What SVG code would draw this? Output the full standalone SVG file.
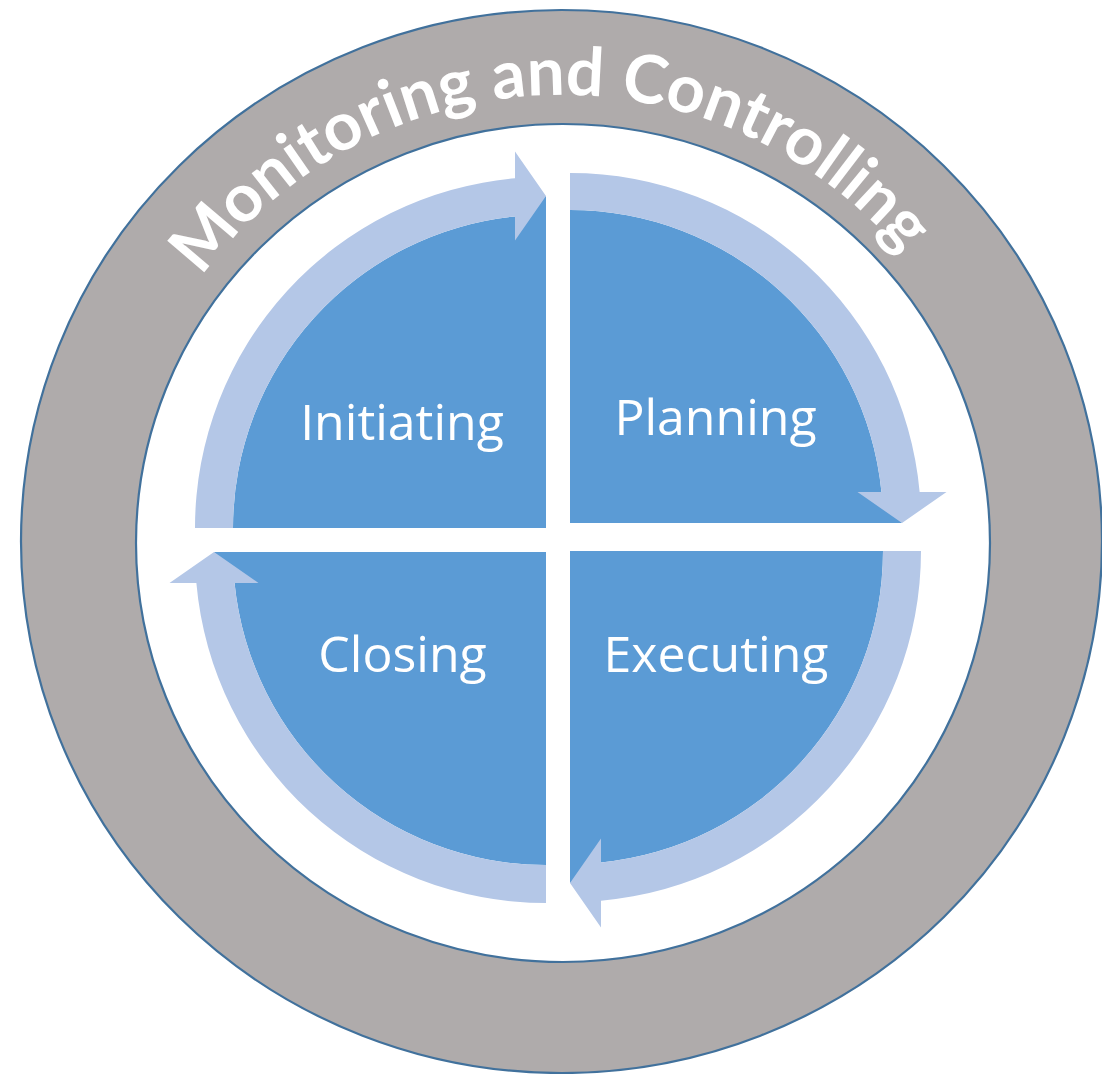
<svg xmlns="http://www.w3.org/2000/svg" width="1102" height="1074" viewBox="0 0 1102 1074">
  <style>
    .ring { fill: #AFABAB; stroke: #41719C; stroke-width: 2.2; }
    .hole { fill: #FFFFFF; stroke: #41719C; stroke-width: 2.2; }
    .quad { fill: #5B9BD5; }
    .arrow { fill: #B4C7E7; }
    .label { font-family: "Open Sans", "Liberation Sans", sans-serif; font-size: 50px; fill: #FFFFFF; text-anchor: middle; }
    .ringtext { font-family: Lato, "Open Sans", "Liberation Sans", sans-serif; font-weight: bold; font-size: 67px; fill: #FFFFFF; }
  </style>
  <defs>
    <path id="ringPath" d="M 115,541 A 446 446 0 0 1 1007,541"/>
  </defs>
  <rect width="1102" height="1074" fill="#FFFFFF"/>
  <g id="monitoring-controlling">
    <ellipse class="ring" cx="561.5" cy="541.5" rx="540.5" ry="531.5"/>
    <ellipse class="hole" cx="563" cy="543" rx="427" ry="419"/>
    <text class="ringtext"><textPath href="#ringPath" startOffset="686" text-anchor="middle">Monitoring and Controlling</textPath></text>
  </g>
  <g id="initiating">
    <path class="quad" d="M 546,528 L 233,528 A 313 313 0 0 1 515,216.54 L 546,196 Z"/>
    <text class="label" x="402" y="440">Initiating</text>
  </g>
  <g id="planning">
    <path class="quad" d="M 570,523 L 570,210 A 313 313 0 0 1 881.46,492 L 902,523 Z"/>
    <text class="label" x="715.5" y="435">Planning</text>
  </g>
  <g id="executing">
    <path class="quad" d="M 570,551 L 883,551 A 313 313 0 0 1 601,862.46 L 570,883 Z"/>
    <text class="label" x="716" y="672">Executing</text>
  </g>
  <g id="closing">
    <path class="quad" d="M 546,552 L 546,865 A 313 313 0 0 1 234.54,583 L 214,552 Z"/>
    <text class="label" x="402.5" y="672">Closing</text>
  </g>
  <g id="connectors">
    <path class="arrow" d="M 195,528 A 351 351 0 0 1 515,178.37 L 515,151.5 L 546,196 L 515,240.5 L 515,216.54 A 313 313 0 0 0 233,528 Z"/>
    <path class="arrow" d="M 570,173 A 351 351 0 0 1 919.63,492 L 946.5,492 L 902,523 L 857.5,492 L 881.46,492 A 313 313 0 0 0 570,210 Z"/>
    <path class="arrow" d="M 921,551 A 351 351 0 0 1 601,900.63 L 601,927.5 L 570,883 L 601,838.5 L 601,862.46 A 313 313 0 0 0 883,551 Z"/>
    <path class="arrow" d="M 546,903 A 351 351 0 0 1 196.37,583 L 169.5,583 L 214,552 L 258.5,583 L 234.54,583 A 313 313 0 0 0 546,865 Z"/>
  </g>
</svg>
